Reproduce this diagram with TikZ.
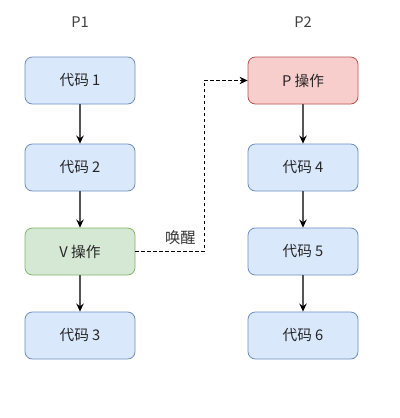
\documentclass[tikz,border=0pt]{standalone}
\usepackage{fontspec}
\setmainfont{Noto Sans CJK SC}
\usetikzlibrary{arrows.meta}
\definecolor{bfill}{HTML}{DAE8FC}
\definecolor{bdraw}{HTML}{6C8EBF}
\definecolor{gfill}{HTML}{D5E8D4}
\definecolor{gdraw}{HTML}{82B366}
\definecolor{rfill}{HTML}{F8CECC}
\definecolor{rdraw}{HTML}{B85450}
\definecolor{arr}{HTML}{555555}
\begin{document}
\begin{tikzpicture}[x=0.75pt,y=-0.75pt,
  box/.style={rounded corners=5.5pt, minimum width=82.5pt, minimum height=35.25pt, inner sep=0pt, font=\fontsize{11pt}{13pt}\selectfont, text=black!85, line width=0.6pt},
  bluebox/.style={box, fill=bfill, draw=bdraw},
  greenbox/.style={box, fill=gfill, draw=gdraw},
  redbox/.style={box, fill=rfill, draw=rdraw},
  flow/.style={draw=arr, line width=1pt, -{Stealth[length=6pt,width=5.5pt,color=black,fill=black]}},
  wake/.style={draw=black, line width=0.7pt, dashed, dash pattern=on 2.5pt off 2pt, -{Stealth[length=6pt,width=5.5pt]}},
  title/.style={font=\fontsize{11pt}{13pt}\selectfont, text=black!75}
]
\useasboundingbox (0,0) rectangle (400,418);
\fill[white] (0,0) rectangle (400,418);
\node[title] (p1) at (80,22) {P1};
\node[title] (p2) at (303,22) {P2};
\node[bluebox] (c1) at (80,80.5) {代码 1};
\node[bluebox] (c2) at (80,167.5) {代码 2};
\node[greenbox] (v) at (80,251.5) {V 操作};
\node[bluebox] (c3) at (80,335.5) {代码 3};
\node[redbox] (p) at (303,80.5) {P 操作};
\node[bluebox] (c4) at (303,167.5) {代码 4};
\node[bluebox] (c5) at (303,251.5) {代码 5};
\node[bluebox] (c6) at (303,335.5) {代码 6};
\draw[flow] (c1) -- (c2);
\draw[flow] (c2) -- (v);
\draw[flow] (v) -- (c3);
\draw[flow] (p) -- (c4);
\draw[flow] (c4) -- (c5);
\draw[flow] (c5) -- (c6);
\coordinate (k1) at (204,251.5);
\coordinate (k2) at (204,80.5);
\draw[wake] (v.east) -- (k1) -- (k2) -- (p.west);
\node[font=\fontsize{11.5pt}{13pt}\selectfont, text=black!80, anchor=east, inner sep=0pt] (lab) at (196,238) {唤醒};
\end{tikzpicture}
\end{document}
